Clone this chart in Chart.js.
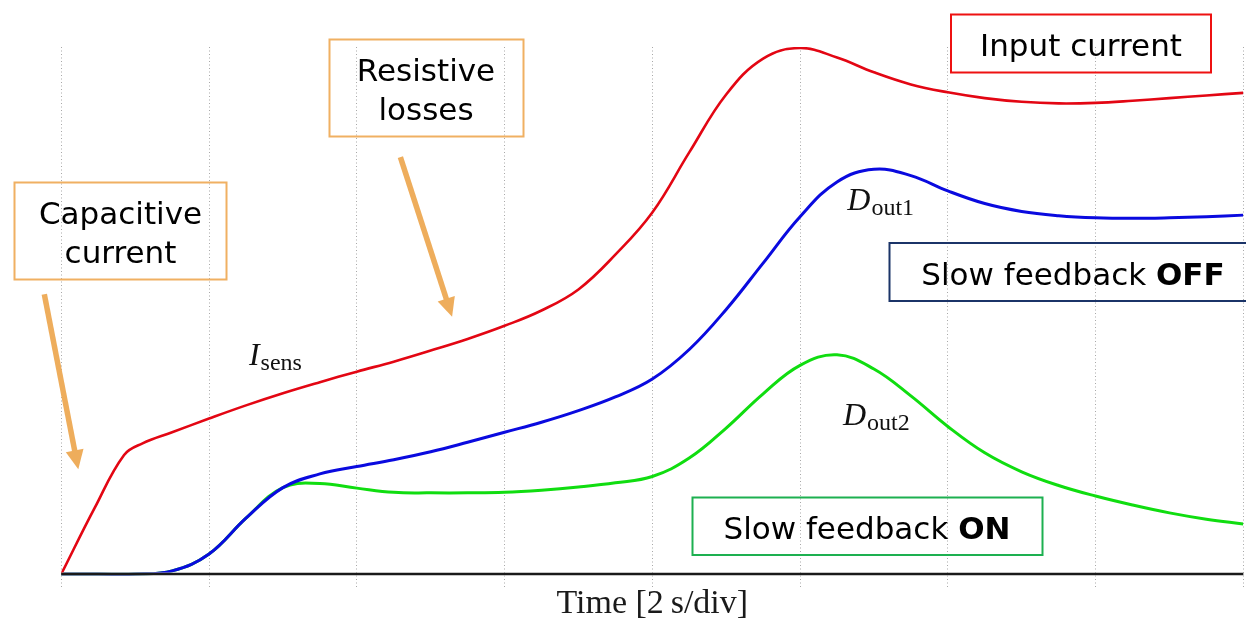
<!DOCTYPE html>
<html>
<head>
<meta charset="utf-8">
<script src="https://cdn.jsdelivr.net/npm/chart.js@4/dist/chart.umd.min.js"></script>
<style>
  html, body { margin: 0; padding: 0; background: #ffffff; }
  #wrap { width: 1246px; height: 620px; position: relative; }
</style>
</head>
<body>
<div id="wrap"><canvas id="c" width="1246" height="620"></canvas></div>
<script>
// Time axis: one dotted grid line per 2 s division
const gridTimes = [0, 2, 4, 6, 8, 10, 12, 14, 16];

// Input current I_sens (time in s, amplitude in arbitrary units)
const sensTime = [0, 0.45, 0.85, 1.1, 1.5, 2.0, 2.5, 3.0, 3.5, 4.0, 4.5, 5.0, 5.5, 6.0, 6.5,
  7.0, 7.5, 8.0, 8.5, 9.0, 9.5, 10.0, 10.5, 11.0, 11.5, 12.0, 12.5, 13.0, 13.5, 14.0,
  14.5, 15.0, 15.5, 16.0];
const sensValues = [0, 12.5, 22.6, 24.8, 26.9, 29.5, 32.0, 34.3, 36.4, 38.4, 40.3, 42.4, 44.6, 47.1, 50.0,
  54.0, 60.6, 68.6, 80.0, 91.0, 97.8, 99.8, 98.0, 95.2, 92.9, 91.4, 90.3, 89.6, 89.3, 89.4,
  89.8, 90.3, 90.8, 91.3];

// Detector output D_out1 (slow feedback off)
const out1Time = [0, 0.5, 1.0, 1.5, 2.0, 2.5, 3.0, 3.5, 4.0, 4.5, 5.0, 5.5, 6.0, 6.5, 7.0,
  7.5, 8.0, 8.5, 9.0, 9.5, 10.0, 10.5, 11.0, 11.5, 12.0, 12.5, 13.0, 13.5, 14.0, 14.5,
  15.0, 15.5, 16.0];
const out1Values = [0, 0, 0, 0.6, 3.8, 10.6, 16.4, 19.0, 20.4, 21.7, 23.2, 25.0, 26.9, 28.8, 31.0,
  33.6, 37.0, 42.6, 50.2, 59.0, 67.8, 74.4, 76.8, 75.6, 72.7, 70.3, 68.8, 68.0, 67.6, 67.5,
  67.6, 67.8, 68.1];

// Detector output D_out2 (slow feedback on)
const out2Time = [0, 0.5, 1.0, 1.5, 2.0, 2.5, 3.0, 3.5, 4.0, 4.5, 5.0, 5.5, 6.0, 6.5, 7.0,
  7.5, 8.0, 8.5, 9.0, 9.5, 10.0, 10.5, 11.0, 11.5, 12.0, 12.5, 13.0, 13.5, 14.0, 14.5,
  15.0, 15.5, 16.0];
const out2Values = [0, 0, 0, 0.6, 3.8, 10.6, 16.4, 17.2, 16.3, 15.5, 15.4, 15.4, 15.5, 15.9, 16.5,
  17.3, 18.5, 22.0, 27.7, 34.2, 39.6, 41.6, 38.9, 33.8, 28.0, 23.0, 19.4, 16.8, 14.8, 13.1,
  11.6, 10.4, 9.5];

const toPoints = (ts, vs) => ts.map((t, i) => ({ x: t, y: vs[i] }));

// Curve name labels, anchored in data units (time, amplitude) at their left baseline
const curveLabels = [
  { main: 'I', sub: 'sens', at: [2.54, 39.7] },
  { main: 'D', sub: 'out1', at: [10.64, 69.1] },
  { main: 'D', sub: 'out2', at: [10.58, 28.3] }
];

// Arrows pointing at the two regions of the input-current curve (data units)
const arrows = [
  { from: [-0.23, 53.1], to: [0.23, 19.9] },
  { from: [4.59, 79.1], to: [5.29, 48.8] }
];

// Callout boxes (canvas pixels)
const boxes = [
  { rect: [14.5, 182.5, 212, 97], color: '#F0B062', cx: 120.5,
    lines: [[{ t: 'Capacitive' }], [{ t: 'current' }]], baselines: [224, 263] },
  { rect: [329.5, 39.5, 194, 97], color: '#F0B062', cx: 426,
    lines: [[{ t: 'Resistive' }], [{ t: 'losses' }]], baselines: [81, 120] },
  { rect: [951, 14.5, 260, 58], color: '#EE1111', cx: 1081,
    lines: [[{ t: 'Input current' }]], baselines: [56] },
  { rect: [889.5, 243, 370, 58], color: '#1B3468', cx: 1073,
    lines: [[{ t: 'Slow feedback ' }, { t: 'OFF', bold: true }]], baselines: [285] },
  { rect: [692.5, 497.5, 350, 57.5], color: '#1DB050', cx: 867,
    lines: [[{ t: 'Slow feedback ' }, { t: 'ON', bold: true }]], baselines: [539] }
];

const SANS = '"DejaVu Sans", Verdana, sans-serif';
const SERIF = '"Liberation Serif", "Times New Roman", serif';

const overlay = {
  id: 'overlay',
  afterDatasetsDraw(chart) {
    const { ctx, chartArea, scales } = chart;
    const y0 = scales.y.getPixelForValue(0);
    ctx.save();
    ctx.lineCap = 'butt';
    ctx.strokeStyle = 'rgba(150,150,150,0.55)';
    ctx.lineWidth = 4;
    ctx.beginPath(); ctx.moveTo(chartArea.left, y0); ctx.lineTo(chartArea.right, y0); ctx.stroke();
    ctx.strokeStyle = '#1a1a1a';
    ctx.lineWidth = 2;
    ctx.beginPath(); ctx.moveTo(chartArea.left, y0); ctx.lineTo(chartArea.right, y0); ctx.stroke();
    ctx.restore();
  },
  afterDraw(chart) {
    const { ctx, scales } = chart;
    const px = (p) => [scales.x.getPixelForValue(p[0]), scales.y.getPixelForValue(p[1])];
    ctx.save();

    // arrows
    ctx.fillStyle = '#EEAD5C';
    ctx.strokeStyle = '#EEAD5C';
    arrows.forEach(a => {
      const [x1, y1] = px(a.from);
      const [x2, y2] = px(a.to);
      const len = Math.hypot(x2 - x1, y2 - y1);
      const ux = (x2 - x1) / len, uy = (y2 - y1) / len;
      const head = 19, half = 9;
      const bx = x2 - ux * head, by = y2 - uy * head;
      ctx.lineWidth = 5.5;
      ctx.beginPath(); ctx.moveTo(x1, y1); ctx.lineTo(bx + ux, by + uy); ctx.stroke();
      ctx.beginPath();
      ctx.moveTo(x2, y2);
      ctx.lineTo(bx - uy * half, by + ux * half);
      ctx.lineTo(bx + uy * half, by - ux * half);
      ctx.closePath();
      ctx.fill();
    });

    // callout boxes
    boxes.forEach(b => {
      ctx.strokeStyle = b.color;
      ctx.lineWidth = 2;
      ctx.strokeRect(b.rect[0], b.rect[1], b.rect[2], b.rect[3]);
      ctx.fillStyle = '#000';
      ctx.textBaseline = 'alphabetic';
      ctx.textAlign = 'left';
      b.lines.forEach((segs, i) => {
        const fontOf = s => (s.bold ? 'bold ' : '') + '31px ' + SANS;
        let w = 0;
        segs.forEach(s => { ctx.font = fontOf(s); w += ctx.measureText(s.t).width; });
        let x = b.cx - w / 2;
        segs.forEach(s => {
          ctx.font = fontOf(s);
          ctx.fillText(s.t, x, b.baselines[i]);
          x += ctx.measureText(s.t).width;
        });
      });
    });

    // curve labels: italic symbol with upright subscript
    ctx.fillStyle = '#111';
    curveLabels.forEach(l => {
      const [x, y] = px(l.at);
      ctx.font = 'italic 32px ' + SERIF;
      ctx.fillText(l.main, x, y);
      const w = ctx.measureText(l.main).width;
      ctx.font = '24px ' + SERIF;
      ctx.fillText(l.sub, x + w + 1, y + 5);
    });
    ctx.restore();
  }
};

const lineSet = (label, data, color, width) => ({
  label, data,
  borderColor: color,
  borderWidth: width,
  pointRadius: 0,
  fill: false,
  tension: 0.4
});

new Chart(document.getElementById('c'), {
  type: 'line',
  data: {
    datasets: [
      lineSet('I_sens', toPoints(sensTime, sensValues), '#E30613', 2.6),
      lineSet('D_out1', toPoints(out1Time, out1Values), '#0A0ADF', 3),
      lineSet('D_out2', toPoints(out2Time, out2Values), '#10DD10', 3)
    ]
  },
  options: {
    responsive: false,
    animation: false,
    devicePixelRatio: 1,
    layout: { padding: { left: 61.3, right: 2.7, top: 47, bottom: 0 } },
    plugins: { legend: { display: false }, tooltip: { enabled: false } },
    scales: {
      x: {
        type: 'linear',
        min: 0, max: 16,
        afterBuildTicks: (scale) => { scale.ticks = gridTimes.map(v => ({ value: v })); },
        ticks: { display: false },
        border: { display: false, dash: [1, 2.5] },
        grid: { color: '#a8a8a8', lineWidth: 1, drawTicks: false, tickBorderDash: [1, 2.5] },
        title: {
          display: true,
          text: 'Time [2\u2009s/div]',
          color: '#1a1a1a',
          font: { family: SERIF, size: 34, lineHeight: 0.94 },
          padding: { top: 0, bottom: 0 }
        }
      },
      y: {
        type: 'linear',
        min: -2.657, max: 100,
        display: false
      }
    }
  },
  plugins: [overlay]
});
</script>
</body>
</html>
